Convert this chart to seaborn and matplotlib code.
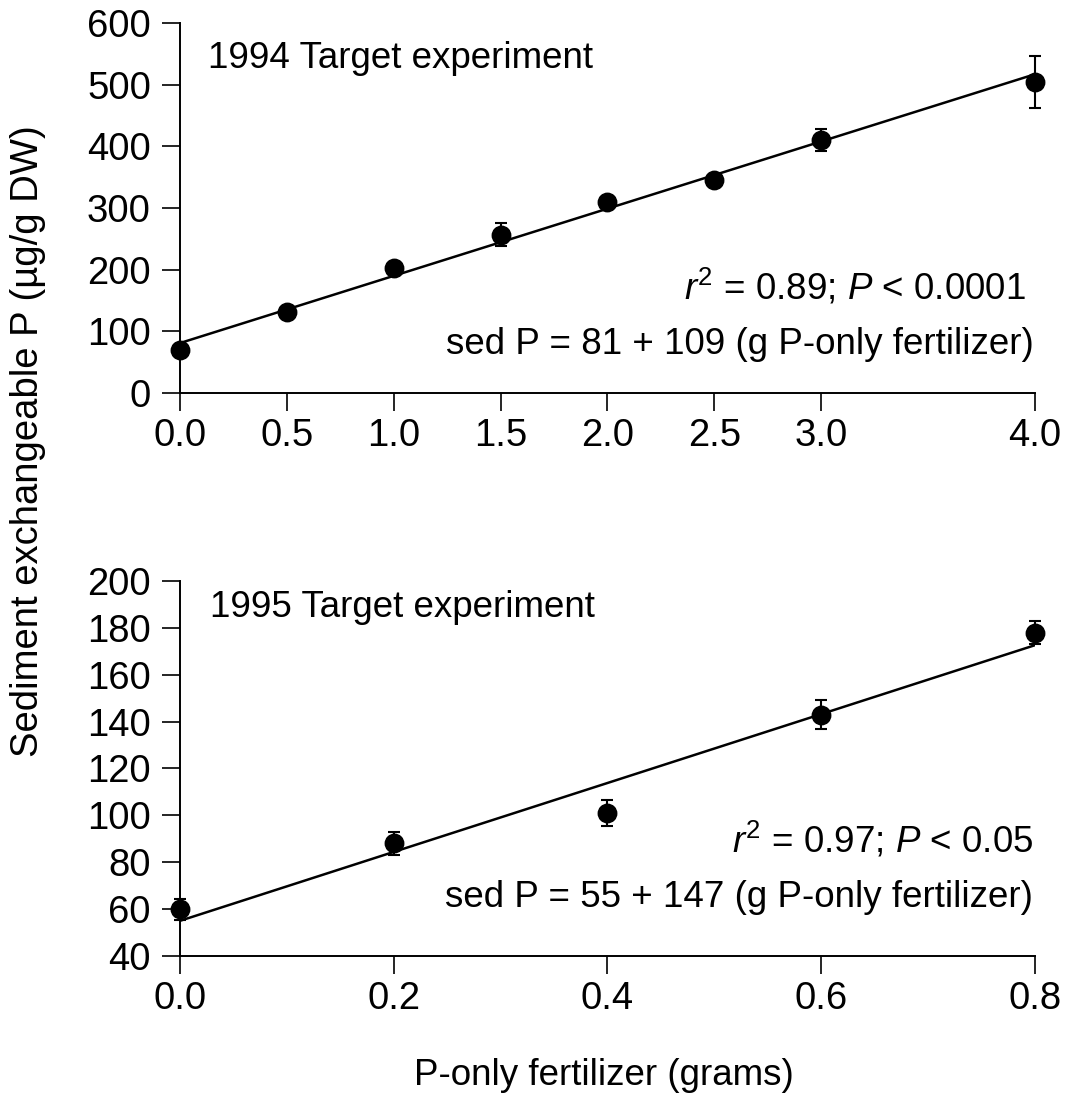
import matplotlib
matplotlib.use("Agg")
import matplotlib.pyplot as plt
import numpy as np
import pandas as pd
import seaborn as sns

# 1994 experiment: fertilizer dose (g) vs sediment exchangeable P
dose_1994 = [0.0, 0.5, 1.0, 1.5, 2.0, 2.5, 3.0, 4.0]
sedp_1994 = [70, 131, 203, 257, 309, 346, 410, 505]
err_1994 = [4, 5, 5, 18, 6, 5, 18, 42]
fit_1994 = (81, 109)  # intercept, slope

# 1995 experiment
dose_1995 = [0.0, 0.2, 0.4, 0.6, 0.8]
sedp_1995 = [60, 88, 101, 143, 178]
err_1995 = [4.5, 5, 5.5, 6, 4.7]
fit_1995 = (55, 147)

xticks_1994 = [0.0, 0.5, 1.0, 1.5, 2.0, 2.5, 3.0, 4.0]
yticks_1994 = [0, 100, 200, 300, 400, 500, 600]
xticks_1995 = [0.0, 0.2, 0.4, 0.6, 0.8]
yticks_1995 = [40, 60, 80, 100, 120, 140, 160, 180, 200]

sns.set_theme(style="ticks")
plt.rcParams["font.family"] = ["Liberation Sans", "DejaVu Sans"]
plt.rcParams["mathtext.fontset"] = "custom"
plt.rcParams["mathtext.rm"] = "Liberation Sans"
plt.rcParams["mathtext.it"] = "Liberation Sans:italic"
plt.rcParams["text.color"] = "black"

FS = 26.5
TICK_FS = 27.5

fig = plt.figure(figsize=(10.67, 11.03), dpi=100)
ax1 = fig.add_axes([0.1687, 0.6437, 0.8013, 0.3354])
ax2 = fig.add_axes([0.1687, 0.1333, 0.8013, 0.3400])


def panel(ax, x, y, e, fit, xt, yt, title, stats, eq, tpos, spos, epos):
    df = pd.DataFrame({"dose": x, "sedp": y})
    b0, b1 = fit
    line = pd.DataFrame({"dose": [x[0], x[-1]]})
    line["sedp"] = b0 + b1 * line["dose"]
    sns.lineplot(data=line, x="dose", y="sedp", ax=ax, color="black", lw=1.8, zorder=2)
    ax.errorbar(x, y, yerr=e, fmt="none", ecolor="black", elinewidth=1.5,
                capsize=4.5, capthick=1.5, zorder=3, clip_on=False)
    sns.scatterplot(data=df, x="dose", y="sedp", ax=ax, s=175, color="black",
                    edgecolor="black", zorder=4, clip_on=False)
    ax.set_xlim(xt[0], xt[-1])
    ax.set_ylim(yt[0], yt[-1])
    ax.set_xticks(xt)
    ax.set_xticklabels([f"{v:.1f}" for v in xt])
    ax.set_yticks(yt)
    ax.set_xlabel("")
    ax.set_ylabel("")
    for s in ["top", "right"]:
        ax.spines[s].set_visible(False)
    for s in ["left", "bottom"]:
        ax.spines[s].set_linewidth(1.4)
        ax.spines[s].set_color("black")
    ax.tick_params(axis="both", direction="out", length=13, width=1.2,
                   colors="black", labelsize=TICK_FS)
    ax.tick_params(axis="y", pad=8)
    ax.tick_params(axis="x", pad=5)
    ax.text(tpos[0], tpos[1], title, transform=ax.transAxes, fontsize=FS,
            ha="left", va="center")
    ax.text(spos[0], spos[1], stats, transform=ax.transAxes, fontsize=FS,
            ha="right", va="center")
    ax.text(epos[0], epos[1], eq, transform=ax.transAxes, fontsize=FS,
            ha="right", va="center")


panel(ax1, dose_1994, sedp_1994, err_1994, fit_1994, xticks_1994, yticks_1994,
      "1994 Target experiment",
      r"$\it{r}^2$ = 0.89; $\it{P}$ < 0.0001",
      "sed P = 81 + 109 (g P-only fertilizer)",
      (0.033, 0.903), (0.99, 0.2865), (0.998, 0.13))
panel(ax2, dose_1995, sedp_1995, err_1995, fit_1995, xticks_1995, yticks_1995,
      "1995 Target experiment",
      r"$\it{r}^2$ = 0.97; $\it{P}$ < 0.05",
      "sed P = 55 + 147 (g P-only fertilizer)",
      (0.035, 0.928), (0.998, 0.309), (0.998, 0.157))

fig.text(0.566, 0.025, "P-only fertilizer (grams)", fontsize=FS, ha="center", va="center")
fig.text(0.026, 0.600, "Sediment exchangeable P (\u00b5g/g DW)", fontsize=27.5,
         rotation=90, ha="center", va="center")

fig.savefig("out.png", dpi=100, facecolor="white")
